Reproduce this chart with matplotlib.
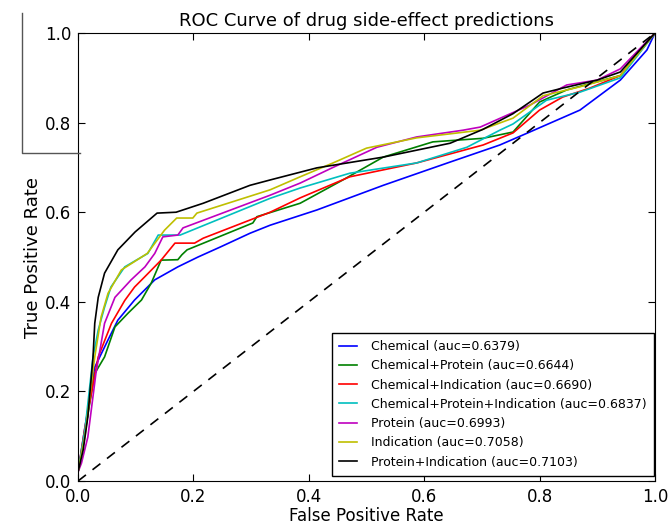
import numpy as np
import matplotlib.pyplot as plt
from matplotlib.lines import Line2D

# ROC curve points (fpr, tpr)
chem_fpr = [0, 0.012, 0.029, 0.052, 0.069, 0.098, 0.133, 0.173, 0.208, 0.246, 0.298, 0.333, 0.414, 0.529, 0.645, 0.731, 0.783, 0.87, 0.94, 0.986, 1.0]
chem_tpr = [0.02, 0.12, 0.254, 0.315, 0.359, 0.404, 0.449, 0.478, 0.50, 0.522, 0.553, 0.571, 0.605, 0.66, 0.712, 0.75, 0.779, 0.828, 0.895, 0.962, 1.0]

chemprot_fpr = [0, 0.012, 0.029, 0.046, 0.064, 0.087, 0.11, 0.127, 0.144, 0.173, 0.18, 0.189, 0.303, 0.31, 0.385, 0.459, 0.529, 0.615, 0.702, 0.754, 0.80, 0.847, 0.94, 1.0]
chemprot_tpr = [0.02, 0.11, 0.24, 0.277, 0.344, 0.375, 0.404, 0.442, 0.493, 0.494, 0.505, 0.516, 0.576, 0.59, 0.62, 0.672, 0.723, 0.757, 0.765, 0.779, 0.846, 0.873, 0.905, 1.0]

chemind_fpr = [0, 0.012, 0.035, 0.058, 0.081, 0.098, 0.115, 0.144, 0.168, 0.202, 0.217, 0.333, 0.385, 0.471, 0.587, 0.702, 0.754, 0.80, 0.84, 0.887, 0.94, 1.0]
chemind_tpr = [0.02, 0.12, 0.277, 0.352, 0.403, 0.433, 0.455, 0.493, 0.531, 0.531, 0.542, 0.60, 0.632, 0.679, 0.71, 0.75, 0.777, 0.828, 0.857, 0.877, 0.905, 1.0]

all3_fpr = [0, 0.012, 0.026, 0.035, 0.046, 0.057, 0.081, 0.121, 0.139, 0.177, 0.333, 0.385, 0.471, 0.587, 0.674, 0.731, 0.754, 0.812, 0.87, 0.94, 1.0]
all3_tpr = [0.02, 0.114, 0.277, 0.337, 0.388, 0.433, 0.478, 0.508, 0.549, 0.549, 0.631, 0.654, 0.687, 0.71, 0.745, 0.783, 0.797, 0.85, 0.868, 0.90, 1.0]

prot_fpr = [0, 0.006, 0.017, 0.031, 0.046, 0.064, 0.092, 0.116, 0.133, 0.147, 0.173, 0.182, 0.333, 0.385, 0.442, 0.518, 0.587, 0.667, 0.697, 0.783, 0.847, 0.90, 0.94, 1.0]
prot_tpr = [0.02, 0.04, 0.098, 0.24, 0.352, 0.41, 0.449, 0.478, 0.508, 0.545, 0.549, 0.565, 0.638, 0.665, 0.70, 0.745, 0.768, 0.783, 0.79, 0.839, 0.884, 0.895, 0.92, 1.0]

ind_fpr = [0, 0.012, 0.029, 0.04, 0.052, 0.075, 0.12, 0.15, 0.171, 0.199, 0.206, 0.333, 0.385, 0.442, 0.50, 0.587, 0.697, 0.754, 0.806, 0.87, 0.94, 1.0]
ind_tpr = [0.02, 0.1, 0.277, 0.366, 0.419, 0.471, 0.508, 0.56, 0.587, 0.587, 0.598, 0.65, 0.679, 0.71, 0.743, 0.766, 0.783, 0.81, 0.86, 0.88, 0.905, 1.0]

protind_fpr = [0, 0.009, 0.017, 0.026, 0.029, 0.035, 0.046, 0.069, 0.099, 0.137, 0.17, 0.217, 0.298, 0.333, 0.414, 0.529, 0.645, 0.702, 0.754, 0.806, 0.84, 0.90, 0.94, 1.0]
protind_tpr = [0.02, 0.07, 0.143, 0.277, 0.352, 0.41, 0.464, 0.516, 0.556, 0.598, 0.60, 0.62, 0.66, 0.672, 0.699, 0.723, 0.754, 0.785, 0.82, 0.866, 0.877, 0.895, 0.913, 1.0]

labels = ['Chemical (auc=0.6379)', 'Chemical+Protein (auc=0.6644)',
          'Chemical+Indication (auc=0.6690)', 'Chemical+Protein+Indication (auc=0.6837)',
          'Protein (auc=0.6993)', 'Indication (auc=0.7058)', 'Protein+Indication (auc=0.7103)']
curves = [(chem_fpr, chem_tpr), (chemprot_fpr, chemprot_tpr), (chemind_fpr, chemind_tpr),
          (all3_fpr, all3_tpr), (prot_fpr, prot_tpr), (ind_fpr, ind_tpr), (protind_fpr, protind_tpr)]
colors = ['#0000ff', '#008000', '#ff0000', '#00bfbf', '#bf00bf', '#bfbf00', '#000000']

fig = plt.figure(figsize=(6.68, 5.29), dpi=100)
ax = fig.add_axes([0.1168, 0.0907, 0.8637, 0.8469])

for (fx, ty), lab, col in zip(curves, labels, colors):
    ax.plot(fx, ty, color=col, linewidth=1.2, label=lab)
ax.plot([0, 1], [0, 1], 'k--', linewidth=1.2, dashes=(6, 5))

ax.set_xlim(0, 1)
ax.set_ylim(0, 1)
ax.set_xticks([0, 0.2, 0.4, 0.6, 0.8, 1.0])
ax.set_yticks([0, 0.2, 0.4, 0.6, 0.8, 1.0])
ax.tick_params(direction='in', top=True, right=True, length=5, labelsize=12, pad=5)
ax.set_title('ROC Curve of drug side-effect predictions', fontsize=13, pad=5)
ax.set_xlabel('False Positive Rate', fontsize=12, labelpad=1)
ax.set_ylabel('True Positive Rate', fontsize=13, labelpad=2)
ax.legend(loc='lower right', bbox_to_anchor=(0.998, 0.011), borderaxespad=0,
          fontsize=9, handlelength=1.4, handletextpad=1.1, borderpad=0.6,
          labelspacing=0.5, fancybox=False, framealpha=1, edgecolor='black')

# stray border line at top-left of the source image
fig.add_artist(Line2D([22/668, 22/668, 80/668], [1-13/529, 1-153/529, 1-153/529],
                      color='#555555', linewidth=1.0))

fig.savefig('out.png', dpi=100)
